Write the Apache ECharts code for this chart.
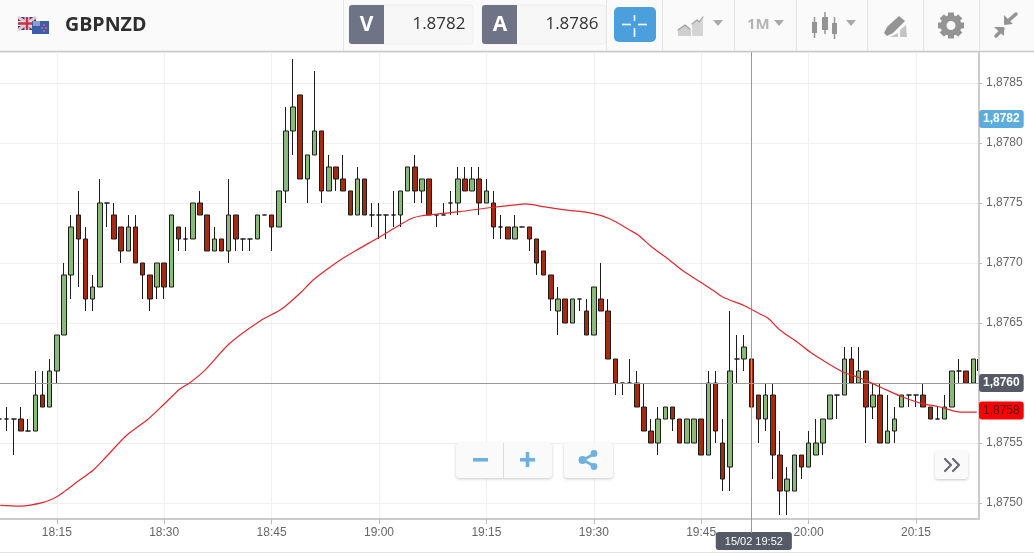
<!DOCTYPE html>
<html><head><meta charset="utf-8">
<style>html,body{margin:0;padding:0;background:#fff}#c{width:1034px;height:554px}</style>
<script src="https://cdn.jsdelivr.net/npm/echarts@6/dist/echarts.min.js"></script>
</head><body><div id="c"></div>
<script>
const SYMBOL = 'GBPNZD';
const BID = '1.8782', ASK = '1.8786';
const PRICE_BASE = 1.87;
const FIRST_MINUTE = 1087; // 18:07
const openPips = [57,57,57,57,56,56,59,58,61,64,69,74,72,67,68,75,74,73,71,73,70,69,68,70,68,73,72,72,75,74,71,72,71,74,72,72,72,74,74,73,76,81,84,77,79,81,76,78,77,76,74,77,74,74,74,74,74,76,78,76,77,74,74,75,75,77,76,77,75,75,73,73,72,73,73,72,71,69,66,67,65,67,66,64,67,66,62,60,60,60,58,56,55,57,58,57,55,55,57,54,60,55,53,62,62,62,59,57,59,54,51,51,54,53,54,55,57,59,59,62,60,61,58,59,55,56,58,59,59,59,58,57,57,58,61,61,60];
const closePips = [57,57,57,56,56,59,58,61,64,69,73,72,67,68,75,75,72,71,73,70,69,67,70,68,74,72,72,75,74,71,72,71,74,72,72,72,74,74,73,76,81,83,77,79,81,76,78,77,76,74,77,74,74,74,74,74,76,78,76,77,74,74,74,75,77,76,77,75,76,73,73,72,73,73,72,70,69,67,67,65,67,67,64,68,66,62,60,60,60,58,56,55,57,58,57,55,57,57,54,60,56,52,61,62,63,58,57,59,54,51,52,54,53,55,55,57,59,59,62,60,61,58,59,55,56,57,59,59,59,58,57,57,58,61,61,60,62];
const lowPips = [56,56,54,56,56,56,58,58,60,64,67,68,66,66,68,73,72,70,71,70,67,66,67,67,68,71,71,72,74,71,71,71,70,71,71,71,72,74,71,73,75,79,77,75,79,75,76,76,76,74,74,74,73,72,72,73,73,76,75,75,74,73,74,74,74,76,76,74,75,72,72,72,72,73,71,69,69,66,64,65,65,66,64,64,66,62,59,59,60,58,56,55,54,57,56,55,55,55,54,54,55,51,51,60,61,58,55,56,52,49,49,51,52,53,54,54,57,57,59,60,60,55,57,55,55,55,58,58,58,58,57,57,57,58,60,60,60];
const highPips = [57,58,57,58,57,61,61,62,64,70,74,76,73,69,77,75,75,73,74,74,70,69,70,70,74,73,73,75,76,74,73,72,77,74,72,72,74,74,74,76,83,87,84,79,86,81,79,78,79,76,78,77,75,75,74,76,76,78,79,77,77,74,75,76,78,78,78,78,77,76,74,73,74,73,73,72,71,69,68,67,67,67,67,68,70,67,62,60,62,61,60,57,58,58,58,57,57,57,57,61,61,57,66,64,64,63,59,60,60,56,53,54,54,56,57,57,59,59,63,63,63,61,60,60,59,58,59,59,59,60,58,58,59,61,62,61,62];
// the candle that is cut off by the right edge of the pane: only its left border shows
const edgeCandle = [1223.6, 1.8761, 1.8762, 1.8761, 1.8762];
const maMinutes = [1087.1,1089.9,1093.1,1095,1096.2,1098,1100.1,1102,1104.8,1107.6,1110,1112.2,1113.6,1115.7,1119.2,1123.4,1126.4,1129,1130.8,1133.2,1134.6,1136.9,1140.1,1142.9,1144.7,1146.1,1148.1,1151.3,1155.1,1159.7,1160.4,1163.2,1166,1169.5,1172.3,1175,1176.2,1178.1,1180.2,1182.5,1185.1,1186.6,1188,1191.1,1193.2,1194.3,1196,1198.4,1200.2,1202.6,1204.8,1207.2,1210,1212.8,1215.6,1218.4,1221.2,1223.5];
const maValues = [1.874981,1.874975,1.875006,1.875053,1.875103,1.875183,1.875275,1.875392,1.875567,1.875692,1.875825,1.87595,1.876003,1.876108,1.876333,1.876517,1.876617,1.87675,1.876858,1.876967,1.877025,1.877108,1.877217,1.877317,1.877375,1.877394,1.877408,1.877428,1.877458,1.877489,1.877492,1.877467,1.877442,1.877417,1.877367,1.877275,1.877233,1.877133,1.877042,1.876933,1.876833,1.876775,1.876717,1.876642,1.876575,1.876542,1.876442,1.876342,1.876258,1.876167,1.876092,1.876042,1.875967,1.875892,1.875833,1.8758,1.875758,1.875758];
const CROSS_MINUTE = 1192, CROSS_PRICE = 1.876;
const BID_PRICE = 1.8782, MA_PRICE = 1.87577;
const CROSS_LABEL = '15/02 19:52';

const price = p => +(PRICE_BASE + p / 10000).toFixed(4);
const candles = openPips.map((o, i) => [FIRST_MINUTE + i, price(o), price(closePips[i]), price(lowPips[i]), price(highPips[i])]);
const ma = maMinutes.map((m, i) => [m, maValues[i]]);
const fmtPrice = v => v.toFixed(4).replace('.', ',');
const fmtTime = v => String(Math.floor(v / 60)).padStart(2, '0') + ':' + String(Math.round(v % 60)).padStart(2, '0');

const UI = '"Open Sans", sans-serif';
const AX = '"Liberation Sans", Arial, sans-serif';
const r = (x, y, w, h, fill, extra) => ({ type: 'rect', shape: { x, y, width: w, height: h, r: (extra && extra.r) || 0 }, style: Object.assign({ fill }, (extra && extra.style) || {}), silent: true, z: 100 });
const ln = (x1, y1, x2, y2, stroke, lineWidth) => ({ type: 'line', shape: { x1, y1, x2, y2 }, style: { stroke, lineWidth: lineWidth || 1 }, silent: true, z: 100 });
const tri = (x, y, w, h, fill) => ({ type: 'polygon', shape: { points: [[x, y], [x + w, y], [x + w / 2, y + h]] }, style: { fill }, silent: true, z: 100 });
const poly = (points, fill) => ({ type: 'polygon', shape: { points }, style: { fill }, silent: true, z: 100 });
const line3 = (points, stroke, lineWidth) => ({ type: 'polyline', shape: { points }, style: { stroke, lineWidth, fill: 'none', lineCap: 'round', lineJoin: 'round' }, silent: true, z: 100 });
const txt = (x, y, text, font, fill, align) => ({ type: 'text', x, y, style: { text, font, fill, align: align || 'left', verticalAlign: 'middle' }, silent: true, z: 101 });
const circ = (cx, cy, rad, fill) => ({ type: 'circle', shape: { cx, cy, r: rad }, style: { fill }, silent: true, z: 100 });
const shadow = { shadowBlur: 3, shadowOffsetY: 1, shadowColor: 'rgba(0,0,0,0.22)' };
const ICON = '#6fb1de', GREY = '#949494';

const gearTeeth = [];
for (let k = 0; k < 8; k++) {
  const a = k * Math.PI / 4, c = Math.cos(a), s = Math.sin(a), t = 3;
  gearTeeth.push(poly([[951 + 8 * c - t * s, 25.5 + 8 * s + t * c], [951 + 13 * c - t * s, 25.5 + 13 * s + t * c], [951 + 13 * c + t * s, 25.5 + 13 * s - t * c], [951 + 8 * c + t * s, 25.5 + 8 * s - t * c]], GREY));
}

const graphics = [
  r(0, 0, 1034, 51, '#fafafa'),
  ln(0, 51.5, 1034, 51.5, '#c9c9c9', 1.5),
  ...[343, 606, 662, 734, 796, 867, 923, 979].map(x => ln(x + .5, 0, x + .5, 51, '#e6e6e6')),
  r(18, 17, 18, 13, '#3d3f7c'),
  ln(18, 17, 36, 30, '#e8c8d0', 3), ln(36, 17, 18, 30, '#e8c8d0', 3),
  ln(27, 17, 27, 30, '#e8d8dc', 5), ln(18, 23.5, 36, 23.5, '#e8d8dc', 5),
  ln(27, 17, 27, 30, '#c8324a', 2.5), ln(18, 23.5, 36, 23.5, '#c8324a', 2.5),
  r(32, 21, 17, 13, '#3a5fa8'),
  r(33, 21, 7, 5, '#8f9cc8'),
  circ(44, 25, 1, '#e86070'), circ(46, 28, 1, '#e86070'), circ(42, 28, 1, '#e86070'), circ(44, 31, 1, '#e86070'),
  txt(65, 25.5, SYMBOL, 'bold 19.6px ' + UI, '#2f2f2f'),
  r(349, 5, 124, 39, '#f7f7f7', { r: 3, style: { stroke: '#eeeeee' } }),
  r(349, 5, 35, 39, '#6f7386', { r: [3, 0, 0, 3] }),
  txt(366.5, 25, 'V', 'bold 21px ' + UI, '#ffffff', 'center'),
  txt(465.5, 24.5, BID, '17px ' + UI, '#333333', 'right'),
  r(482, 5, 124, 39, '#f7f7f7', { r: 3, style: { stroke: '#eeeeee' } }),
  r(482, 5, 35, 39, '#6f7386', { r: [3, 0, 0, 3] }),
  txt(500, 25, 'A', 'bold 21px ' + UI, '#ffffff', 'center'),
  txt(598.5, 24.5, ASK, '17px ' + UI, '#333333', 'right'),
  r(614, 7, 42, 35, '#4a9fdc', { r: 5 }),
  ln(622, 24.5, 631, 24.5, '#ffffff', 1.6), ln(638, 24.5, 647, 24.5, '#ffffff', 1.6),
  ln(634.5, 15, 634.5, 21, '#ffffff', 1.6), ln(634.5, 28, 634.5, 37, '#ffffff', 1.6),
  poly([[678, 36], [678, 30], [685, 25], [691, 30], [691, 36]], '#cfcfcf'),
  poly([[692, 36], [692, 24], [697, 21], [699, 23], [703, 18], [703, 36]], '#d4d4d4'),
  line3([[678, 30], [685, 25], [690, 29]], '#9e9e9e', 1.2),
  line3([[692, 24], [697, 20], [699, 22], [703, 17]], '#9e9e9e', 1.2),
  tri(713, 20, 10, 6, '#aaaaaa'),
  txt(747, 24.5, '1M', 'bold 15px ' + UI, '#b4b4b4'),
  tri(774, 20, 10, 6, '#aaaaaa'),
  ln(814.5, 17, 814.5, 38, GREY, 1.5), r(812, 22, 5, 11, GREY),
  ln(825, 12, 825, 34, GREY, 1.5), r(822, 17, 6, 13, GREY),
  ln(834.5, 17, 834.5, 39, GREY, 1.5), r(832, 23, 5, 11, GREY),
  tri(846, 20, 10, 6, '#aaaaaa'),
  poly([[884, 33], [887, 27], [899, 16], [905, 21], [893, 33], [887, 36]], GREY),
  poly([[890, 37], [898, 33], [898, 37]], '#c4c4c4'),
  poly([[900, 37], [900, 30], [906, 25], [907, 37]], '#c4c4c4'),
  ...gearTeeth,
  { type: 'ring', shape: { cx: 951, cy: 25.5, r: 10.5, r0: 4.5 }, style: { fill: GREY }, silent: true, z: 100 },
  line3([[1007, 22], [1016, 14]], GREY, 3.5),
  poly([[1004, 15], [1008, 19], [1013, 24], [1004, 25]], GREY),
  line3([[1003, 29], [996, 36]], GREY, 3.5),
  poly([[994, 27], [1004, 27], [1004, 36]], GREY),
  ln(0, 552.5, 1034, 552.5, '#e2e2e2'),
  ln(751.5, 519, 751.5, 533, '#999999'),
  { type: 'rect', shape: { x: 456, y: 443, width: 96, height: 35, r: 3 }, style: Object.assign({ fill: '#fafafa' }, shadow), silent: true, z: 100 },
  ln(503.5, 443, 503.5, 478, '#dddddd'),
  r(473, 458, 15, 3.6, ICON),
  r(520, 458, 15, 3.6, ICON), r(525.7, 452, 3.6, 15, ICON),
  { type: 'rect', shape: { x: 564, y: 443, width: 49, height: 35, r: 3 }, style: Object.assign({ fill: '#fafafa' }, shadow), silent: true, z: 100 },
  line3([[594, 454], [583, 460], [594, 466]], ICON, 2.6),
  circ(594, 453.5, 3.4, ICON), circ(582.5, 460, 4, ICON), circ(594, 466.5, 3.4, ICON),
  { type: 'rect', shape: { x: 935, y: 451, width: 33, height: 28, r: 3 }, style: Object.assign({ fill: '#fafafa' }, shadow), silent: true, z: 100 },
  line3([[945, 459], [951, 465], [945, 471]], '#6a6a74', 2.2),
  line3([[953, 459], [959, 465], [953, 471]], '#6a6a74', 2.2)
];

const badge = (bg, color, extra) => Object.assign({
  show: true, position: 'end', distance: 0, align: 'left', verticalAlign: 'middle',
  backgroundColor: bg, color, fontFamily: AX, fontSize: 12, padding: [3, 4, 3, 4], borderRadius: 3,
  formatter: p => fmtPrice(p.value)
}, extra || {});
const HIDDEN_LINE = { color: 'rgba(0,0,0,0)', width: 0 };
const candleStyle = { color: '#8ab97a', color0: '#a52a10', borderColor: '#1c1c1c', borderColor0: '#1c1c1c', borderColorDoji: '#1c1c1c', borderWidth: 1 };

const chart = echarts.init(document.getElementById('c'), null, { width: 1034, height: 554 });
chart.setOption({
  animation: false,
  backgroundColor: '#ffffff',
  grid: { left: -50.6, right: 55, top: 52, bottom: 35, containLabel: false, outerBoundsMode: 'none' },
  xAxis: {
    type: 'value', min: 1080, max: 1223.8, interval: 15,
    axisLine: { show: true, onZero: false, lineStyle: { color: '#cccccc', width: 2 } },
    axisTick: { show: true, length: 5, lineStyle: { color: '#bbbbbb' } },
    axisLabel: { color: '#666666', margin: 8, showMinLabel: false, showMaxLabel: false, formatter: fmtTime, fontFamily: AX, fontSize: 12 },
    splitLine: { show: true, lineStyle: { color: '#f0f0f0', width: 1 } }
  },
  yAxis: {
    type: 'value', position: 'right', min: 1.874867, max: 1.878758, splitNumber: 8,
    axisLine: { show: true, onZero: false, lineStyle: { color: '#cccccc', width: 2 } },
    axisTick: { show: true, length: 3, lineStyle: { color: '#bbbbbb' } },
    axisLabel: { color: '#666666', margin: 7, showMinLabel: false, showMaxLabel: false, formatter: fmtPrice, fontFamily: AX, fontSize: 12 },
    splitLine: { show: true, lineStyle: { color: '#f0f0f0', width: 1 } }
  },
  series: [
    {
      type: 'candlestick', name: SYMBOL, data: candles, barWidth: 5, clip: true,
      itemStyle: candleStyle,
      markLine: {
        silent: true, animation: false, symbol: 'none', precision: 6,
        lineStyle: { color: '#999999', width: 1, type: 'solid' },
        data: [
          { yAxis: CROSS_PRICE, label: badge('#555a66', '#ffffff', { fontWeight: 'bold' }) },
          { yAxis: BID_PRICE, lineStyle: HIDDEN_LINE, label: badge('#5aaddd', '#ffffff', { fontWeight: 'bold' }) },
          { yAxis: MA_PRICE, lineStyle: HIDDEN_LINE, label: badge('#ff0000', '#5a0000') },
          { xAxis: CROSS_MINUTE, label: { show: true, position: 'start', distance: 13, offset: [2.5, 0], backgroundColor: '#555a66', color: '#ffffff', fontFamily: AX, fontSize: 11, padding: [4, 9, 3, 9], borderRadius: 3, formatter: CROSS_LABEL } }
        ]
      }
    },
    {
      type: 'candlestick', name: SYMBOL + ' edge', data: [edgeCandle], barWidth: 1, clip: true,
      itemStyle: candleStyle
    },
    {
      type: 'line', name: 'MA', data: ma, showSymbol: false, smooth: 0.3, clip: true,
      lineStyle: { color: '#e0282e', width: 1.2 }, z: 5
    }
  ],
  graphic: { elements: graphics }
});
</script></body></html>
